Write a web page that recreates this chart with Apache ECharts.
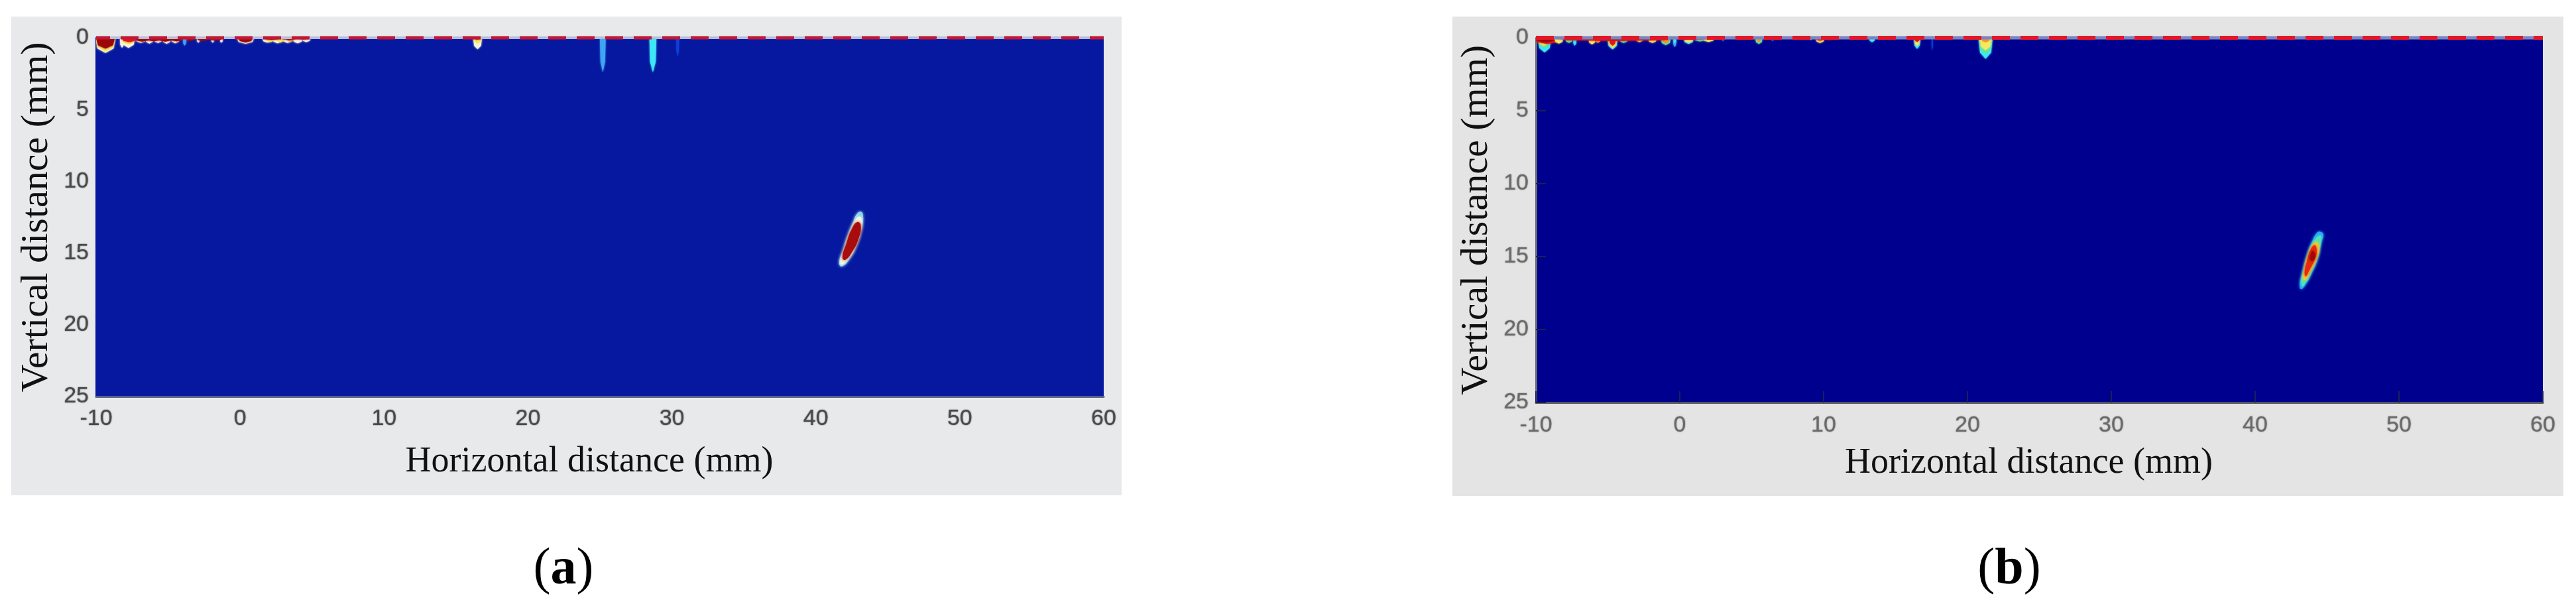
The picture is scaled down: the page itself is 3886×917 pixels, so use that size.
<!DOCTYPE html>
<html>
<head>
<meta charset="utf-8">
<title>Vertical / horizontal distance maps</title>
<script src="https://cdn.jsdelivr.net/npm/echarts@6/dist/echarts.min.js"></script>
<style>
html, body { margin: 0; padding: 0; background: #fff; }
#chart { width: 3886px; height: 917px; }
</style>
</head>
<body>
<div id="chart"></div>
<script>
// axis ticks
const xTicks = [-10, 0, 10, 20, 30, 40, 50, 60]
const yTicks = [0, 5, 10, 15, 20, 25]

// jet colour levels used by the drips and contours
const jet = ['#1040d8', '#3fa4f4', '#3fe6f6', '#58e8a0', '#f8e860', '#f89030', '#e01818', '#9c0808', '#f6f4e0']

// surface echo, mm
const surfaceLine = [[-10, 0], [60, 0]]

// near-surface drips: [x centre, half width, depth, jet level], outer first
const dripsA = [
  [-9.35, 0.7, 1.05, 8], [-9.35, 0.65, 0.95, 4], [-9.35, 0.65, 0.75, 7],
  [-8.2, 0.15, 0.7, 8], [-7.75, 0.45, 0.7, 8], [-7.75, 0.45, 0.45, 4], [-7.7, 0.5, 0.3, 6],
  [-6.9, 0.35, 0.36, 8], [-6.3, 0.3, 0.4, 8], [-5.7, 0.3, 0.36, 8], [-5.1, 0.3, 0.42, 8], [-4.5, 0.3, 0.38, 8],
  [-6.8, 0.5, 0.26, 7], [-6, 0.5, 0.24, 7], [-5.2, 0.5, 0.26, 7], [-4.4, 0.5, 0.24, 7], [-3.6, 0.45, 0.22, 7],
  [-3.85, 0.12, 0.55, 1],
  [-2.9, 0.1, 0.35, 8], [-1.9, 0.1, 0.35, 8], [-1.3, 0.1, 0.35, 8],
  [-2.6, 0.4, 0.22, 7], [-1.7, 0.45, 0.2, 7],
  [0.38, 0.6, 0.42, 8], [0.38, 0.5, 0.32, 7],
  [1.9, 0.35, 0.34, 8], [2.6, 0.35, 0.38, 8], [3.3, 0.35, 0.36, 8], [4, 0.35, 0.38, 8], [4.6, 0.3, 0.3, 8],
  [2.1, 0.3, 0.3, 4], [2.8, 0.3, 0.32, 4], [3.5, 0.25, 0.26, 5],
  [2.2, 0.6, 0.14, 7], [3.4, 0.6, 0.14, 7], [4.4, 0.5, 0.12, 7],
  [16.5, 0.3, 0.8, 8], [16.5, 0.25, 0.4, 4], [16.5, 0.3, 0.12, 7],
  [25.2, 0.2, 2.4, 1], [28.68, 0.24, 2.4, 2], [30.4, 0.1, 1.3, 0]
]
const dripsB = [
  [-9.4, 0.45, 1, 2], [-9.4, 0.42, 0.7, 3], [-9.45, 0.4, 0.55, 4], [-9.2, 0.9, 0.42, 6], [-9.3, 0.75, 0.3, 7],
  [-8.4, 0.3, 0.4, 4], [-7.7, 0.25, 0.35, 3], [-7.3, 0.12, 0.55, 2], [-6.1, 0.25, 0.45, 4], [-5.7, 0.2, 0.35, 5],
  [-4.67, 0.35, 0.8, 2], [-4.67, 0.3, 0.7, 4], [-4.67, 0.22, 0.55, 6],
  [-3.9, 0.3, 0.35, 3], [-2.8, 0.25, 0.3, 4], [-1.9, 0.3, 0.35, 4], [-0.97, 0.35, 0.5, 3], [-0.97, 0.25, 0.38, 5],
  [-0.35, 0.12, 0.65, 1], [-0.35, 0.08, 0.4, 2], [-4.5, 4.2, 0.22, 6], [-4.5, 4, 0.12, 7],
  [0.62, 0.35, 0.42, 2], [0.62, 0.3, 0.33, 4], [1.4, 0.4, 0.25, 3], [2, 0.4, 0.28, 4], [1, 1.5, 0.12, 6],
  [3, 0.08, 0.2, 1], [4.4, 0.3, 0.1, 6], [5.5, 0.25, 0.42, 3], [5.5, 0.15, 0.3, 5], [6.45, 0.08, 0.2, 1], [6.6, 0.4, 0.1, 6],
  [9.1, 0.08, 0.15, 2], [9.75, 0.3, 0.35, 4], [9.75, 0.3, 0.2, 6], [10.4, 0.25, 0.15, 6],
  [13.37, 0.2, 0.3, 2], [13.37, 0.1, 0.12, 3],
  [16.5, 0.22, 0.76, 2], [16.5, 0.18, 0.55, 4], [16.5, 0.18, 0.28, 6], [17.55, 0.05, 0.9, 0],
  [21.26, 0.48, 1.44, 2], [21.26, 0.45, 1.1, 3], [21.26, 0.4, 0.85, 4], [21.26, 0.3, 0.3, 5]
]

// defect contours in mm, panel a
const defectAOuter = [[43.12, 12.12], [43.28, 12.385], [43.2, 13.23], [42.89, 14.31], [42.36, 15.39], [41.82, 15.93], [41.62, 15.7], [41.89, 14.77], [42.2, 13.77], [42.59, 12.85], [42.82, 12.31]]
const defectAMid = [[43.05, 12.46], [43.2, 12.85], [43.12, 13.54], [42.74, 14.62], [42.2, 15.47], [41.79, 15.82], [41.69, 15.62], [42, 14.62], [42.35, 13.62], [42.71, 12.77]]
const defectACore = [[42.89, 12.85], [43.12, 13.08], [42.97, 14], [42.51, 14.93], [42.05, 15.47], [41.85, 15.31], [42.13, 14.31], [42.51, 13.31]]

// defect contours in mm, panel b
const defectBOuter = [[44.51, 13.29], [44.74, 13.47], [44.59, 14.08], [44.36, 15.14], [43.9, 16.2], [43.52, 16.88], [43.21, 17.23], [43.1, 16.95], [43.25, 16.2], [43.59, 14.91], [43.98, 13.92], [44.28, 13.39]]
const defectBGreen = [[44.51, 13.55], [44.59, 13.77], [44.44, 14.53], [44.21, 15.29], [43.82, 16.2], [43.44, 16.88], [43.29, 17.03], [43.21, 16.65], [43.36, 16.05], [43.67, 14.91], [44.05, 14]]
const defectBYellow = [[44.28, 14], [44.44, 14.38], [44.28, 15.14], [43.82, 16.05], [43.52, 16.58], [43.33, 16.5], [43.41, 15.89], [43.75, 14.68], [44.05, 14.15]]
const defectBRed = [[44.13, 14.23], [44.28, 14.61], [44.13, 15.21], [43.75, 15.97], [43.52, 16.35], [43.44, 16.05], [43.59, 15.36], [43.82, 14.61]]
const defectBCore = [[43.98, 14.61], [44.18, 14.91], [44.02, 15.29], [43.82, 15.21], [43.85, 14.91]]

const serif = '"Liberation Serif", "Times New Roman", serif'
const sans = '"Liberation Sans", Arial, sans-serif'

function dripSeries (index, data) {
  return {
    type: 'custom',
    xAxisIndex: index,
    yAxisIndex: index,
    coordinateSystem: 'cartesian2d',
    clip: true,
    silent: true,
    z: 3,
    encode: { x: 0, y: 2 },
    data: data,
    renderItem (params, api) {
      const x = api.value(0)
      const w = api.value(1)
      const d = api.value(2)
      const color = jet[api.value(3)]
      return {
        type: 'polygon',
        shape: {
          points: [[x - w, 0], [x + w, 0], [x + w * 0.8, d * 0.7], [x, d], [x - w * 0.8, d * 0.7]].map(p => api.coord(p))
        },
        style: { fill: color, shadowBlur: 3, shadowColor: color }
      }
    }
  }
}

function contourSeries (index, points, color) {
  return {
    type: 'custom',
    xAxisIndex: index,
    yAxisIndex: index,
    coordinateSystem: 'cartesian2d',
    silent: true,
    z: 4,
    encode: { x: 0, y: 1 },
    data: points,
    renderItem (params, api) {
      if (params.dataIndex !== 0) return null
      return {
        type: 'polygon',
        shape: { points: points.map(p => api.coord(p)), smooth: 0.5 },
        style: { fill: color, shadowBlur: 4, shadowColor: color }
      }
    }
  }
}

function surfaceSeries (index, gapColor, dashColor, width, offset) {
  const base = {
    type: 'line',
    xAxisIndex: index,
    yAxisIndex: index,
    data: surfaceLine,
    showSymbol: false,
    silent: true,
    clip: false,
    z: 5
  }
  return [
    Object.assign({}, base, { lineStyle: { color: gapColor, width: width - 1 } }),
    Object.assign({}, base, { lineStyle: { color: dashColor, width: width, type: [27, 16], dashOffset: offset, cap: 'butt' } })
  ]
}

function xAxisFor (gridIndex, tickColor, showTick, lineColor) {
  return {
    gridIndex: gridIndex,
    type: 'value',
    min: xTicks[0],
    max: xTicks[xTicks.length - 1],
    interval: 10,
    name: 'Horizontal distance (mm)',
    nameLocation: 'middle',
    nameGap: gridIndex === 0 ? 72 : 65,
    nameTextStyle: { fontFamily: serif, fontSize: 54, color: '#111', padding: [0, 32, 0, 0] },
    axisLine: { show: true, onZero: false, lineStyle: { color: lineColor, width: 3 } },
    axisTick: { show: showTick, inside: true, length: 17, lineStyle: { color: '#1c2050', width: 2 } },
    axisLabel: {
      fontFamily: sans,
      fontSize: 34,
      color: tickColor,
      margin: gridIndex === 0 ? 17 : 18,
      textShadowColor: tickColor,
      textShadowBlur: 2,
      formatter: v => String(v)
    },
    splitLine: { show: false }
  }
}

function yAxisFor (gridIndex, tickColor, showTick, lineColor) {
  return {
    gridIndex: gridIndex,
    type: 'value',
    inverse: true,
    min: yTicks[0],
    max: yTicks[yTicks.length - 1],
    interval: 5,
    name: 'Vertical distance (mm)',
    nameLocation: 'middle',
    nameGap: 60,
    nameRotate: 90,
    nameTextStyle: { fontFamily: serif, fontSize: 58, color: '#111' },
    axisLine: { show: true, onZero: false, lineStyle: { color: lineColor, width: 3 } },
    axisTick: { show: showTick, inside: true, length: 15, lineStyle: { color: '#1c2050', width: 2 } },
    axisLabel: {
      fontFamily: sans,
      fontSize: 34,
      color: tickColor,
      margin: 11,
      textShadowColor: tickColor,
      textShadowBlur: 2
    },
    splitLine: { show: false }
  }
}

const option = {
  animation: false,
  backgroundColor: '#fff',
  graphic: [
    { type: 'rect', z: -10, shape: { x: 17, y: 25, width: 1675, height: 722 }, style: { fill: '#e8e9ea' } },
    { type: 'rect', z: -10, shape: { x: 2191, y: 25, width: 1676, height: 723 }, style: { fill: '#e4e4e4' } }
  ],
  title: [
    {
      text: '({a|a})',
      left: 845,
      top: 855,
      textAlign: 'center',
      textVerticalAlign: 'middle',
      textStyle: { fontFamily: serif, fontSize: 78, fontWeight: 'normal', color: '#000', rich: { a: { fontFamily: serif, fontSize: 78, fontWeight: 'bold', color: '#000' } } }
    },
    {
      text: '({b|b})',
      left: 3026,
      top: 855,
      textAlign: 'center',
      textVerticalAlign: 'middle',
      textStyle: { fontFamily: serif, fontSize: 78, fontWeight: 'normal', color: '#000', rich: { b: { fontFamily: serif, fontSize: 78, fontWeight: 'bold', color: '#000' } } }
    }
  ],
  grid: [
    { left: 145, top: 57, width: 1520, height: 541, show: true, borderWidth: 0, backgroundColor: '#0618a0' },
    { left: 2317, top: 57, width: 1519, height: 550, show: true, borderWidth: 0, backgroundColor: '#00008f' }
  ],
  xAxis: [
    xAxisFor(0, '#4a4a4a', false, '#5a6088'),
    xAxisFor(1, '#6a6a6a', true, '#55555f')
  ],
  yAxis: [
    yAxisFor(0, '#4a4a4a', false, '#0618a0'),
    yAxisFor(1, '#6a6a6a', true, '#6a6a78')
  ],
  series: [
    dripSeries(0, dripsA),
    dripSeries(1, dripsB),
    contourSeries(0, defectAOuter, '#8ad4ec'),
    contourSeries(0, defectAMid, jet[8]),
    contourSeries(0, defectACore, '#a80c0c'),
    contourSeries(1, defectBOuter, '#2aa8f8'),
    contourSeries(1, defectBGreen, '#50e4b0'),
    contourSeries(1, defectBYellow, '#f4c830'),
    contourSeries(1, defectBRed, '#e82810'),
    contourSeries(1, defectBCore, '#a00808')
  ].concat(
    surfaceSeries(0, '#b8bcd8', '#c01838', 5, 6),
    surfaceSeries(1, '#7c84c0', '#e01828', 6, 0)
  )
}

const myChart = echarts.init(document.getElementById('chart'))
myChart.setOption(option)
</script>
</body>
</html>
